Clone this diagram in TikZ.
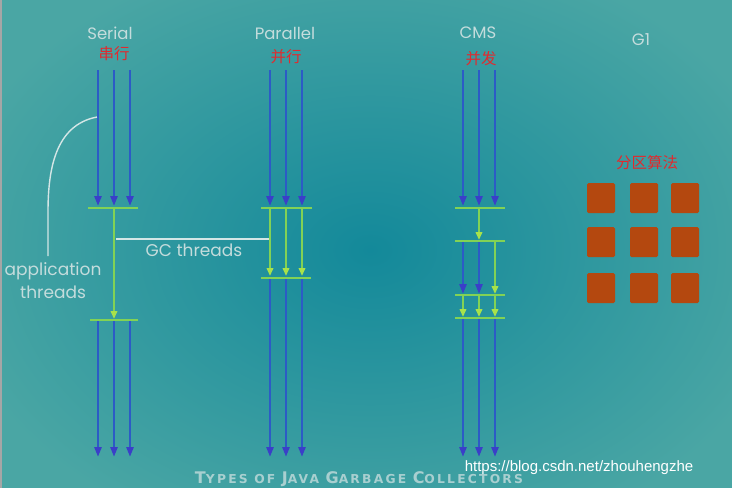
\documentclass[tikz,border=0pt]{standalone}
\usepackage{fontspec}
\setmainfont{Poppins}
\newfontfamily\cjk{Noto Sans CJK SC}
\newfontfamily\wmfont{Liberation Sans}
\newfontfamily\capsfont[LetterSpace=18]{DejaVu Sans}
\usetikzlibrary{arrows.meta}
\definecolor{bgin}{HTML}{13899A}
\definecolor{bgout}{HTML}{4AA6A4}
\definecolor{bluec}{HTML}{2C5BC6}
\definecolor{bluetip}{HTML}{3A3FC8}
\definecolor{greenc}{HTML}{82D255}
\definecolor{greentip}{HTML}{A8E24A}
\definecolor{labc}{HTML}{C4DCDC}
\definecolor{redc}{HTML}{E12A2E}
\definecolor{sqc}{HTML}{B4480F}
\definecolor{wline}{HTML}{D4E6E6}
\tikzset{
  bluearr/.style={draw=bluec, line width=2.6pt, -{Triangle[width=7pt,length=10pt,color=bluetip]}},
  greenarr/.style={draw=greenc, line width=2pt, -{Triangle[width=6.5pt,length=8pt,color=greentip]}},
  greenbar/.style={draw=greenc, line width=2pt},
  title/.style={text=labc, font=\fontsize{16.5}{16.5}\selectfont, inner sep=0pt},
  redlab/.style={text=redc, font=\cjk\fontsize{15.5}{15.5}\selectfont, inner sep=0pt},
  plain/.style={text=labc, font=\fontsize{17}{23}\selectfont, inner sep=0pt},
  region/.style={fill=sqc, rounded corners=1.5pt},
  whiteline/.style={draw=wline, line width=1.4pt}
}
\begin{document}
\begin{tikzpicture}[x=1pt,y=-1pt]
\useasboundingbox (0,0) rectangle (732,488);
\fill[inner color=bgin, outer color=bgout] (-60,-60) rectangle (800,560);
\fill[gray!70] (0,0) rectangle (2,488);

% titles
\node[title] (tser) at (110,33) {Serial};
\node[title] (tpar) at (285,33) {Parallel};
\node[title] (tcms) at (478,33) {CMS};
\node[title] (tg1) at (641,40) {G1};
\node[redlab] (rser) at (114,54) {串行};
\node[redlab] (rpar) at (286,57) {并行};
\node[redlab] (rcms) at (481,59) {并发};
\node[redlab] (rg1) at (647,163) {分区算法};

% Serial
\foreach \x [count=\i] in {98,114,130} {
  \coordinate (s\i a) at (\x,70);
  \coordinate (s\i b) at (\x,206);
  \coordinate (s\i c) at (\x,321);
  \coordinate (s\i d) at (\x,457);
  \draw[bluearr] (s\i a) -- (s\i b);
  \draw[bluearr] (s\i c) -- (s\i d);
}
\coordinate (sb1l) at (88,208); \coordinate (sb1r) at (138,208);
\coordinate (sb2l) at (90,320); \coordinate (sb2r) at (138,320);
\draw[greenbar] (sb1l) -- (sb1r);
\draw[greenbar] (sb2l) -- (sb2r);
\coordinate (sg1) at (114,208); \coordinate (sg2) at (114,319);
\draw[greenarr] (sg1) -- (sg2);

% Parallel
\foreach \x [count=\i] in {270,286,302} {
  \coordinate (p\i a) at (\x,70);
  \coordinate (p\i b) at (\x,206);
  \coordinate (p\i c) at (\x,209);
  \coordinate (p\i e) at (\x,276);
  \coordinate (p\i f) at (\x,279);
  \coordinate (p\i d) at (\x,457);
  \draw[bluearr] (p\i a) -- (p\i b);
  \draw[greenarr] (p\i c) -- (p\i e);
  \draw[bluearr] (p\i f) -- (p\i d);
}
\coordinate (pb1l) at (261,208); \coordinate (pb1r) at (312,208);
\coordinate (pb2l) at (261,278); \coordinate (pb2r) at (311,278);
\draw[greenbar] (pb1l) -- (pb1r);
\draw[greenbar] (pb2l) -- (pb2r);

% CMS
\foreach \x [count=\i] in {463,479,495} {
  \coordinate (c\i a) at (\x,70);
  \coordinate (c\i b) at (\x,206);
  \coordinate (c\i g) at (\x,296);
  \coordinate (c\i h) at (\x,317);
  \coordinate (c\i f) at (\x,319);
  \coordinate (c\i d) at (\x,457);
  \draw[bluearr] (c\i a) -- (c\i b);
  \draw[greenarr] (c\i g) -- (c\i h);
  \draw[bluearr] (c\i f) -- (c\i d);
}
\foreach \y [count=\j] in {208,241,295,318} {
  \coordinate (cb\j l) at (455,\y); \coordinate (cb\j r) at (505,\y);
  \draw[greenbar] (cb\j l) -- (cb\j r);
}
\coordinate (cm1) at (479,209); \coordinate (cm2) at (479,240);
\draw[greenarr] (cm1) -- (cm2);
\coordinate (cn1) at (463,242); \coordinate (cn2) at (463,294);
\coordinate (cn3) at (479,242); \coordinate (cn4) at (479,294);
\coordinate (cn5) at (495,242); \coordinate (cn6) at (495,294);
\draw[bluearr] (cn1) -- (cn2);
\draw[bluearr] (cn3) -- (cn4);
\draw[greenarr] (cn5) -- (cn6);

% G1 regions
\foreach \xx [count=\i] in {587,630,671} {
  \foreach \yy [count=\j] in {183,227,273} {
    \path[region] (\xx,\yy) rectangle ++(28,30);
    \coordinate (g\i\j) at (\xx+14,\yy+15);
  }
}

% annotations
\node[plain] (gct) at (194,250) {GC threads};
\coordinate (gl1) at (116,239); \coordinate (gl2) at (269,239);
\draw[whiteline] (gl1) -- (gl2);
\node[plain, align=center] (appt) at (53,281) {application\\threads};
\coordinate (al1) at (97,117); \coordinate (al2) at (48,256);
\draw[whiteline] (al1) .. controls (55,125) and (48,170) .. (48,212) -- (al2);

% bottom
\node[text=labc, inner sep=0pt, opacity=0.8] (bottom) at (359,479) {\resizebox{328pt}{!}{\capsfont\bfseries{\fontsize{13}{13}\selectfont T}{\fontsize{10}{10}\selectfont YPES} {\fontsize{10}{10}\selectfont OF} {\fontsize{13}{13}\selectfont J}{\fontsize{10}{10}\selectfont AVA} {\fontsize{13}{13}\selectfont G}{\fontsize{10}{10}\selectfont ARBAGE} {\fontsize{13}{13}\selectfont C}{\fontsize{10}{10}\selectfont OLLECTORS}}};
\node[text=white, inner sep=0pt, font=\wmfont\fontsize{15}{15}\selectfont] (wm) at (579,468) {https://blog.csdn.net/zhouhengzhe};
\end{tikzpicture}
\end{document}
